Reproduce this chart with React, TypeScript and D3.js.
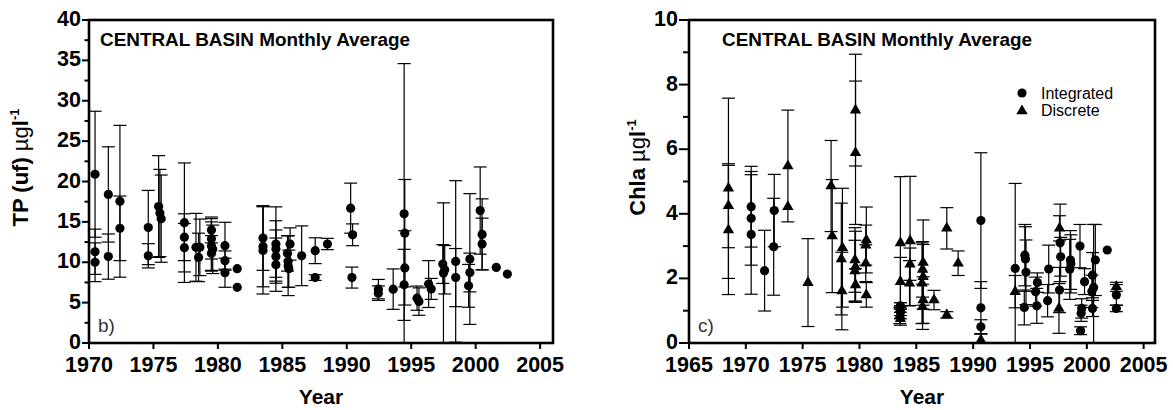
import React from 'react';
import * as d3 from 'd3';

// panel b) TP (uf), monthly averages with error bars
const tpYear = [
  1970.47, 1970.47, 1970.47, 1971.5, 1971.5, 1972.4, 1972.4, 1974.6, 1974.6,
  1975.4, 1975.5, 1975.6, 1977.4, 1977.4, 1977.4, 1978.3, 1978.6, 1978.5,
  1979.5, 1979.5, 1979.5, 1979.5, 1979.6, 1980.55, 1980.55, 1980.55, 1981.5, 1981.5,
  1983.5, 1983.5, 1983.5, 1984.5, 1984.5, 1984.5, 1984.5,
  1985.6, 1985.4, 1985.45, 1985.45, 1985.5, 1986.5, 1987.55, 1987.55, 1988.5,
  1990.3, 1990.45, 1990.4, 1992.45, 1992.45, 1993.6,
  1994.45, 1994.5, 1994.5, 1994.45, 1995.45, 1995.6, 1996.35, 1996.55,
  1997.45, 1997.6, 1997.5, 1998.45, 1998.45, 1999.55, 1999.55, 1999.45,
  2000.35, 2000.5, 2000.5, 2001.6, 2002.46,
];
const tpMean = [
  20.9, 11.3, 10.0, 18.4, 10.7, 17.55, 14.2, 14.3, 10.8,
  16.9, 16.1, 15.4, 14.9, 13.1, 11.8, 11.85, 11.85, 10.6,
  14.0, 12.9, 12.0, 11.1, 11.6, 12.05, 10.2, 8.7, 9.2, 6.9,
  13.0, 11.96, 11.47, 12.26, 11.64, 10.7, 9.7,
  12.26, 11.1, 10.1, 9.57, 9.2, 10.8, 11.43, 8.1, 12.26,
  16.7, 13.4, 8.1, 6.67, 6.17, 6.67,
  16.0, 13.6, 9.3, 7.2, 5.55, 5.13, 7.3, 6.7,
  9.78, 9.07, 8.66, 10.1, 8.1, 10.4, 8.73, 7.08,
  16.4, 13.45, 12.26, 9.36, 8.53,
];
const tpErr = [
  7.8, 2.8, 2.4, 5.9, 2.8, 9.4, 4.0, 4.6, 1.5,
  6.3, 5.4, 5.4, 7.4, 2.9, 3.0, 4.2, 3.5, 3.0,
  1.6, 2.5, 3.0, 2.2, 3.0, 2.9, 1.2, 1.8, 0, 0,
  4.0, 5.0, 5.4, 4.6, 3.5, 3.3, 3.3,
  2.0, 2.2, 3.2, 3.7, 2.3, 3.7, 1.6, 0.35, 0.7,
  3.1, 1.35, 1.3, 1.2, 0.9, 2.5,
  18.6, 6.65, 4.6, 4.4, 1.5, 1.7, 2.9, 1.3,
  2.4, 3.0, 8.7, 10.0, 3.6, 8.1, 2.4, 2.65,
  5.4, 4.4, 3.2, 0, 0,
];

// panel c) Chla, integrated samples (circles)
const intYear = [
  1970.47, 1970.47, 1970.47, 1971.65, 1972.5, 1972.45, 1983.6, 1983.6,
  1990.68, 1990.68, 1990.68, 1993.7,
  1994.55, 1994.6, 1994.65, 1994.5, 1995.65, 1995.5, 1995.6, 1996.65, 1996.55,
  1997.65, 1997.7, 1997.6, 1998.56, 1998.6, 1998.5,
  1999.4, 1999.8, 1999.55, 1999.5, 1999.45, 2000.75, 2000.5, 2000.6, 2000.45, 2000.5,
  2001.8, 2002.6, 2002.6,
];
const intMean = [
  4.22, 3.86, 3.36, 2.24, 4.1, 2.98, 1.15, 0.95,
  3.79, 1.09, 0.5, 2.31,
  2.72, 2.6, 2.19, 1.1, 1.87, 1.59, 1.15, 2.29, 1.31,
  3.1, 2.67, 1.64, 2.57, 2.45, 2.28,
  3.0, 1.9, 1.07, 0.92, 0.38, 2.57, 2.1, 1.72, 1.6, 1.07,
  2.88, 1.49, 1.07,
];
const intErr = [
  1.25, 1.45, 1.85, 1.25, 1.12, 1.5, 0.1, 0.2,
  2.1, 0.81, 0.22, 2.63,
  0.95, 1.0, 1.0, 0.54, 0.3, 0.45, 0.54, 0.74, 0.5,
  1.2, 0.6, 0.7, 0.91, 0.9, 0.93,
  0.67, 0.4, 0.3, 0.25, 0.12, 1.1, 0.7, 1.95, 0.5, 0.25,
  0, 0.32, 0.1,
];

// panel c) Chla, discrete samples (triangles)
const discYear = [
  1968.47, 1968.47, 1968.47, 1973.7, 1973.7, 1975.47, 1977.5, 1977.6,
  1978.5, 1978.4, 1978.45, 1979.65, 1979.65, 1979.6, 1979.65, 1979.6, 1979.65,
  1980.6, 1980.55, 1980.55, 1980.6,
  1983.6, 1983.6, 1983.6, 1983.55, 1983.6, 1984.45, 1984.45, 1984.4,
  1985.6, 1985.55, 1985.6, 1985.5, 1985.6, 1985.55, 1986.56, 1987.68, 1987.68, 1988.68,
  1990.68, 1993.7, 1997.6, 1997.55, 2002.6,
];
const discMean = [
  4.79, 4.25, 3.5, 5.48, 4.22, 1.87, 4.86, 3.31,
  2.95, 2.6, 1.61, 7.21, 5.89, 2.57, 2.36, 2.23, 1.8,
  3.19, 3.03, 2.47, 1.49,
  3.1, 1.9, 1.05, 0.85, 0.75, 3.16, 2.44, 1.85,
  2.49, 2.28, 2.05, 1.85, 1.33, 1.12, 1.33, 3.55, 0.87, 2.47,
  0.09, 1.59, 3.55, 1.07, 1.74,
];
const discErr = [
  2.79, 1.3, 2.0, 1.73, 0, 1.36, 1.41, 1.75,
  1.84, 1.73, 1.2, 1.73, 2.22, 1.0, 1.1, 0.95, 0.5,
  1.02, 0.62, 0.57, 0.38,
  2.05, 0.75, 0.2, 0.25, 0.2, 2.0, 0.5, 0.7,
  1.32, 0.86, 1.0, 1.25, 0.72, 0.7, 0.3, 0.64, 0.1, 0.38,
  0.2, 0.5, 0.39, 0.77, 0.14,
];

const xTicksB = [1970, 1975, 1980, 1985, 1990, 1995, 2000, 2005];
const yTicksB = [0, 5, 10, 15, 20, 25, 30, 35, 40];
const xTicksC = [1965, 1970, 1975, 1980, 1985, 1990, 1995, 2000, 2005];
const yTicksC = [0, 2, 4, 6, 8, 10];

const TITLE = 'CENTRAL BASIN  Monthly Average';
const FONT = '"Liberation Sans", Arial, Helvetica, sans-serif';

type Series = { years: number[]; means: number[]; errs: number[]; shape: 'circle' | 'triangle' };

const triPath = d3.symbol(d3.symbolTriangle, 56)() as string;

function Markers({ s, x, y }: { s: Series; x: d3.ScaleLinear<number, number>; y: d3.ScaleLinear<number, number> }) {
  const y0 = y.domain()[0];
  return (
    <g>
      {s.years.map((yr, i) => {
        const m = s.means[i];
        const e = s.errs[i];
        if (!e) return null;
        const cx = x(yr);
        const lo = m - e;
        const yTop = y(m + e);
        const yBot = y(Math.max(lo, y0));
        return (
          <g key={i} stroke="#000" strokeWidth={1.2}>
            <line x1={cx} x2={cx} y1={yTop} y2={yBot} />
            <line x1={cx - 6.5} x2={cx + 6.5} y1={yTop} y2={yTop} />
            {lo >= y0 && <line x1={cx - 6.5} x2={cx + 6.5} y1={yBot} y2={yBot} />}
          </g>
        );
      })}
      {s.years.map((yr, i) =>
        s.shape === 'circle' ? (
          <circle key={'m' + i} cx={x(yr)} cy={y(s.means[i])} r={4.6} fill="#000" />
        ) : (
          <path key={'m' + i} d={triPath} transform={`translate(${x(yr)},${y(s.means[i])})`} fill="#000" />
        )
      )}
    </g>
  );
}

interface PanelProps {
  left: number;
  right: number;
  top: number;
  bottom: number;
  xDomain: [number, number];
  yDomain: [number, number];
  xTicks: number[];
  yTicks: number[];
  tickLen: number;
  series: Series[];
  yTitle: React.ReactNode;
  yTitleX: number;
  titleX: number;
  panelLabel: string;
  legend?: boolean;
}

function Panel(p: PanelProps) {
  const x = d3.scaleLinear().domain(p.xDomain).range([p.left, p.right]);
  const y = d3.scaleLinear().domain(p.yDomain).range([p.bottom, p.top]);
  const step = p.yTicks[1] - p.yTicks[0];
  const minor = p.yTicks.slice(0, -1).map((t) => t + step / 2);
  const midX = (p.left + p.right) / 2;
  const midY = (p.top + p.bottom) / 2 - 14;
  return (
    <g fontFamily={FONT}>
      <text x={p.titleX} y={46} fontSize={18} fontWeight="bold" textLength={310} lengthAdjust="spacingAndGlyphs">
        {TITLE}
      </text>
      <text x={p.left + 9} y={332} fontSize={19} fill="#333">
        {p.panelLabel}
      </text>
      {p.series.map((s, i) => (
        <Markers key={i} s={s} x={x} y={y} />
      ))}
      {/* frame */}
      <rect x={p.left} y={p.top} width={p.right - p.left} height={p.bottom - p.top} fill="none" stroke="#000" strokeWidth={2.6} />
      {p.yTicks.map((t) => (
        <g key={'y' + t}>
          <line x1={p.left - p.tickLen} x2={p.left} y1={y(t)} y2={y(t)} stroke="#000" strokeWidth={2} />
          <text x={p.left - p.tickLen - 1} y={y(t)} dy="0.28em" textAnchor="end" fontSize={21.5} fontWeight="bold">
            {t}
          </text>
        </g>
      ))}
      {minor.map((t) => (
        <line key={'ym' + t} x1={p.left - p.tickLen / 2 - 1} x2={p.left} y1={y(t)} y2={y(t)} stroke="#000" strokeWidth={2} />
      ))}
      {p.xTicks.map((t) => (
        <g key={'x' + t}>
          <line x1={x(t)} x2={x(t)} y1={p.bottom} y2={p.bottom + 6} stroke="#000" strokeWidth={2} />
          <text x={x(t)} y={372} textAnchor="middle" fontSize={21.5} fontWeight="bold">
            {t}
          </text>
        </g>
      ))}
      <text x={midX} y={404} textAnchor="middle" fontSize={21} fontWeight="bold">
        Year
      </text>
      <text transform={`translate(${p.yTitleX},${midY}) rotate(-90)`} textAnchor="middle" fontSize={22} fontWeight="bold">
        {p.yTitle}
      </text>
      {p.legend && (
        <g fontSize={16}>
          <circle cx={1022} cy={93} r={4.6} fill="#000" />
          <text x={1041} y={98.5}>Integrated</text>
          <path d={triPath} transform="translate(1022,111)" fill="#000" />
          <text x={1041} y={115.5}>Discrete</text>
        </g>
      )}
    </g>
  );
}

export default function App() {
  return (
    <svg width={1173} height={410} style={{ position: 'absolute', left: 0, top: 0, background: '#fff' }}>
      <rect width={1173} height={410} fill="#fff" />
      <Panel
        left={89}
        right={553}
        top={20}
        bottom={343}
        xDomain={[1970, 2006]}
        yDomain={[0, 40]}
        xTicks={xTicksB}
        yTicks={yTicksB}
        tickLen={7}
        titleX={100}
        series={[{ years: tpYear, means: tpMean, errs: tpErr, shape: 'circle' }]}
        yTitleX={28}
        yTitle={
          <>
            <tspan>TP (uf) </tspan>
            <tspan fontWeight="normal">µg</tspan>
            <tspan>l</tspan>
            <tspan fontSize={13} dy={-9}>-1</tspan>
          </>
        }
        panelLabel="b)"
      />
      <Panel
        left={689}
        right={1155}
        top={20}
        bottom={343}
        xDomain={[1965, 2006]}
        yDomain={[0, 10]}
        xTicks={xTicksC}
        yTicks={yTicksC}
        tickLen={10}
        titleX={722}
        series={[
          { years: intYear, means: intMean, errs: intErr, shape: 'circle' },
          { years: discYear, means: discMean, errs: discErr, shape: 'triangle' },
        ]}
        yTitleX={645}
        yTitle={
          <>
            <tspan>Chla </tspan>
            <tspan fontWeight="normal">µg</tspan>
            <tspan>l</tspan>
            <tspan fontSize={13} dy={-9}>-1</tspan>
          </>
        }
        panelLabel="c)"
        legend
      />
    </svg>
  );
}
